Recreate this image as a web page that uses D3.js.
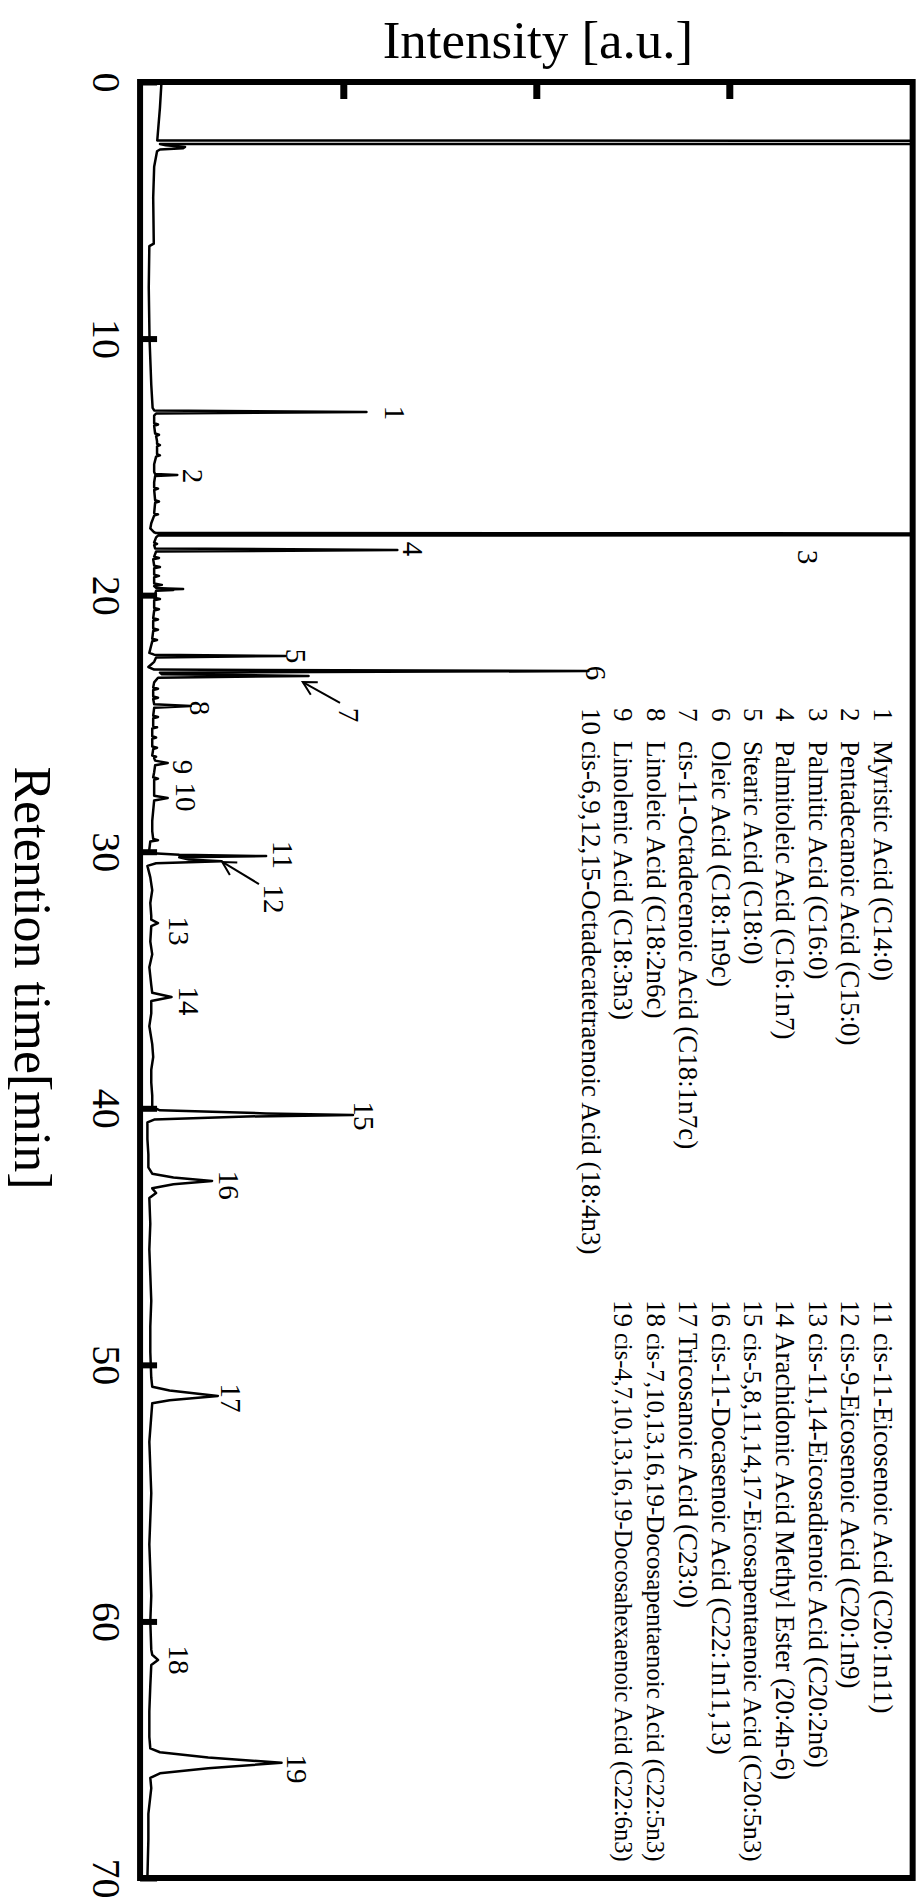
<!DOCTYPE html>
<html lang="en">
<head>
<meta charset="UTF-8">
<title>Chromatogram</title>
<script src="https://cdn.jsdelivr.net/npm/d3@7"></script>
<style>
  body { margin: 0; background: #fff; }
  svg { display: block; }
  text { font-family: "Liberation Serif", "Times New Roman", serif; fill: #000; }
</style>
</head>
<body>
<script>
// ---- data ----
const timeTicks = [0, 10, 20, 30, 40, 50, 60, 70]
const intensityTicks = [1, 2, 3]

// [retention time (min), intensity (a.u.)]
const trace = [
  [0, 0.058], [1.0, 0.05], [2.1, 0.038], [2.28, 0.036], [2.29, 6], [2.41, 6], [2.42, 0.05],
  [2.47, 0.08], [2.53, 0.18], [2.58, 0.17], [2.63, 0.05], [2.7, 0.035], [3.3, 0.02], [4.5, 0.015],
  [6.3, 0.018], [6.4, -0.005], [8, -0.008], [10, -0.004], [11.8, 0.005], [12.7, 0.012],
  [12.8, 0.02], [12.86, 1.12], [12.92, 0.03], [13.0, 0.02],
  [13.3, 0.02], [13.35, 0.04], [13.4, 0.02], [13.7, 0.025], [13.75, 0.045], [13.8, 0.03],
  [14.0, 0.035], [14.1, 0.035], [14.15, 0.05], [14.2, 0.035], [14.5, 0.035], [14.55, 0.05],
  [14.6, 0.03], [14.9, 0.02], [15.2, 0.02],
  [15.28, 0.025], [15.32, 0.14], [15.36, 0.025],
  [15.6, 0.02], [15.8, 0.02], [15.85, 0.04], [15.9, 0.02], [16.3, 0.025], [16.35, 0.045],
  [16.4, 0.025], [16.8, 0.02], [16.85, 0.04], [16.9, 0.02], [17.2, 0.005], [17.4, 0.0], [17.55, 0.02],
  [17.58, 0.03], [17.6, 6], [17.66, 6], [17.68, 0.04],
  [17.75, 0.03], [17.95, 0.02], [18.0, 0.035], [18.05, 0.02],
  [18.18, 0.025], [18.24, 1.28], [18.3, 0.03],
  [18.5, 0.02], [18.55, 0.045], [18.6, 0.015], [18.85, 0.02], [18.9, 0.05], [18.95, 0.02],
  [19.2, 0.02], [19.25, 0.045], [19.3, 0.02], [19.55, 0.02], [19.6, 0.06], [19.65, 0.02],
  [19.72, 0.03], [19.74, 0.09], [19.76, 0.17], [19.78, 0.08], [19.8, 0.12], [19.83, 0.03],
  [20.1, 0.02], [20.15, 0.05], [20.2, 0.02], [20.5, 0.02], [20.55, 0.045], [20.6, 0.02],
  [20.9, 0.015], [20.95, 0.04], [21.0, 0.015], [21.3, 0.015], [21.35, 0.04], [21.4, 0.015],
  [21.7, 0.01], [21.75, 0.035], [21.8, 0.01], [22.1, 0.0], [22.25, -0.005],
  [22.32, 0.02], [22.37, 0.70], [22.43, 0.03], [22.6, 0.02], [22.8, -0.01], [22.9, 0.02],
  [22.96, 2.27], [23.02, 0.05], [23.08, 0.06], [23.15, 0.82], [23.22, 0.04],
  [23.4, 0.02], [23.6, 0.015], [23.65, 0.04], [23.7, 0.015], [23.95, 0.015], [24.0, 0.04], [24.05, 0.015],
  [24.25, 0.02], [24.32, 0.21], [24.39, 0.02],
  [24.7, 0.015], [24.75, 0.04], [24.8, 0.015], [25.1, 0.015], [25.15, 0.035], [25.2, 0.01],
  [25.5, 0.01], [25.55, 0.03], [25.6, 0.01], [25.9, 0.01], [25.95, 0.035], [26.0, 0.015],
  [26.25, 0.01], [26.3, 0.03], [26.35, 0.02],
  [26.45, 0.025], [26.54, 0.09], [26.63, 0.025],
  [26.9, 0.02], [27.1, 0.015], [27.15, 0.04], [27.2, 0.02], [27.5, 0.02],
  [27.82, 0.02], [27.91, 0.09], [28.0, 0.02],
  [28.4, 0.015], [28.8, 0.01], [29.2, 0.01], [29.5, 0.015], [29.55, 0.04], [29.6, 0.0],
  [29.9, -0.005], [30.05, -0.01],
  [30.12, 0.15], [30.17, 0.60], [30.22, 0.15], [30.3, 0.2], [30.37, 0.37], [30.45, 0.03], [30.55, -0.015],
  [31.0, 0.0], [31.5, 0.01], [32.0, 0.0], [32.5, 0.005],
  [32.65, 0.005], [32.78, 0.04], [32.9, 0.005],
  [33.5, 0.0], [34.0, 0.01], [34.5, -0.005], [35.2, 0.005],
  [35.5, 0.01], [35.66, 0.11], [35.82, 0.005],
  [36.3, 0.005], [36.8, -0.005], [37.5, 0.01], [38.0, 0.015], [38.5, 0.005], [39.0, 0.005],
  [39.5, 0.01], [39.95, 0.01],
  [40.08, 0.05], [40.2, 0.6], [40.26, 1.05], [40.32, 0.5], [40.44, 0.02], [40.55, -0.015],
  [41.2, -0.015], [41.8, -0.01], [42.3, -0.01],
  [42.55, 0.01], [42.7, 0.12], [42.83, 0.32], [42.96, 0.12], [43.12, 0.01], [43.3, 0.03], [43.5, -0.005],
  [44.5, 0.0], [45.5, -0.005], [46.5, 0.0], [47.5, 0.005], [48.5, 0.0], [49.5, 0.0], [50.5, 0.005],
  [50.85, 0.01], [51.0, 0.1], [51.21, 0.35], [51.38, 0.1], [51.5, 0.01],
  [52, 0.005], [53, -0.005], [54, 0.0], [55, 0.005], [56, 0.0], [57, -0.005], [58, 0.0],
  [59, 0.005], [60, 0.0], [61.1, 0.005],
  [61.3, 0.01], [61.5, 0.04], [61.7, 0.005],
  [62.5, 0.0], [63.5, -0.005], [64.5, -0.005],
  [64.95, 0.0], [65.1, 0.05], [65.3, 0.3], [65.51, 0.68], [65.72, 0.3], [65.92, 0.05], [66.1, 0.0],
  [66.5, 0.005], [67.5, -0.01], [68.5, -0.01], [70, -0.015]
]

// peak numbers and where their labels sit
const peakNames = ['1', '2', '3', '4', '5', '6', '7', '8', '9', '10', '11', '12', '13', '14', '15', '16', '17', '18', '19']
const labelTimes = [12.9, 15.36, 18.51, 18.2, 22.37, 23.03, 24.67, 24.4, 26.7, 27.87, 30.13, 31.84, 33.09, 35.82, 40.3, 43.0, 51.29, 61.5, 65.75]
const labelIntensities = [1.27, 0.22, 3.41, 1.36, 0.755, 2.31, 1.03, 0.26, 0.17, 0.185, 0.69, 0.64, 0.15, 0.2, 1.107, 0.41, 0.42, 0.15, 0.76]

// arrows for the shoulders 7 and 12: [time, intensity] tail -> tip
const arrowTails = [[24.2, 0.983], [31.26, 0.563]]
const arrowTips = [[23.39, 0.79], [30.4, 0.373]]

const legendNames1 = [
  'Myristic Acid (C14:0)',
  'Pentadecanoic Acid (C15:0)',
  'Palmitic Acid (C16:0)',
  'Palmitoleic Acid (C16:1n7)',
  'Stearic Acid (C18:0)',
  'Oleic Acid (C18:1n9c)',
  'cis-11-Octadecenoic Acid (C18:1n7c)',
  'Linoleic Acid (C18:2n6c)',
  'Linolenic Acid (C18:3n3)',
  'cis-6,9,12,15-Octadecatetraenoic Acid (18:4n3)'
]
const legendNames2 = [
  'cis-11-Eicosenoic Acid (C20:1n11)',
  'cis-9-Eicosenoic Acid (C20:1n9)',
  'cis-11,14-Eicosadienoic Acid (C20:2n6)',
  'Arachidonic Acid Methyl Ester (20:4n-6)',
  'cis-5,8,11,14,17-Eicosapentaenoic Acid (C20:5n3)',
  'cis-11-Docasenoic Acid (C22:1n11,13)',
  'Tricosanoic Acid (C23:0)',
  'cis-7,10,13,16,19-Docosapentaenoic Acid (C22:5n3)',
  'cis-4,7,10,13,16,19-Docosahexaenoic Acid (C22:6n3)'
]

// ---- chart ----
const width = 922
const height = 1900
const intensityExtent = [-0.053, 3.95]

// time runs down the page, intensity runs across
const y = d3.scaleLinear().domain([0, 70]).range([82, 1878])
const x = d3.scaleLinear().domain([0, 3]).range([150.3, 729.3])

const svg = d3.select('body').append('svg')
  .attr('width', width)
  .attr('height', height)

const left = x(intensityExtent[0])
const right = x(intensityExtent[1])

svg.append('clipPath').attr('id', 'plot-clip')
  .append('rect')
  .attr('x', left).attr('y', y(0))
  .attr('width', right - left).attr('height', y(70) - y(0))

const line = d3.line()
  .x(d => x(d[1]))
  .y(d => y(d[0]))

svg.append('path')
  .datum(trace)
  .attr('clip-path', 'url(#plot-clip)')
  .attr('d', line)
  .attr('fill', 'none')
  .attr('stroke', '#000')
  .attr('stroke-width', 2.5)
  .attr('stroke-linejoin', 'round')

// top ticks (no labels)
const topAxis = svg.append('g')
  .attr('transform', `translate(0,${y(0)})`)
  .call(d3.axisBottom(x).tickValues(intensityTicks).tickSize(17).tickFormat(''))
topAxis.select('.domain').remove()
topAxis.selectAll('line').attr('stroke-width', 7)

// left axis: ticks inside, labels rotated
const leftAxis = svg.append('g')
  .attr('transform', `translate(${left},0)`)
  .call(d3.axisLeft(y).tickValues(timeTicks).tickSize(-17).tickFormat(d => d))
leftAxis.select('.domain').remove()
leftAxis.selectAll('line').attr('stroke-width', 6)
leftAxis.selectAll('text')
  .attr('x', 0)
  .attr('dy', '0.35em')
  .attr('text-anchor', 'middle')
  .attr('transform', 'translate(-33,0) rotate(90)')
  .style('font-family', '"Liberation Serif", "Times New Roman", serif')
  .style('font-size', '40px')

// frame
svg.append('rect')
  .attr('x', left).attr('y', y(0))
  .attr('width', right - left).attr('height', y(70) - y(0))
  .attr('fill', 'none')
  .attr('stroke', '#000')
  .attr('stroke-width', 6)

// titles
svg.append('text')
  .attr('x', 538).attr('y', 58)
  .attr('text-anchor', 'middle')
  .style('font-size', '53px')
  .text('Intensity [a.u.]')

svg.append('text')
  .attr('transform', 'translate(15,978) rotate(90)')
  .attr('text-anchor', 'middle')
  .style('font-size', '52px')
  .text('Retention time[min]')

// peak labels
svg.append('g').selectAll('text')
  .data(peakNames)
  .join('text')
  .attr('transform', (d, i) => `translate(${x(labelIntensities[i])},${y(labelTimes[i])}) rotate(90)`)
  .attr('text-anchor', 'middle')
  .attr('dy', '0.35em')
  .style('font-size', '29px')
  .text(d => d)

// arrows
const arrows = svg.append('g')
  .attr('stroke', '#000')
  .attr('stroke-width', 2)
  .attr('fill', 'none')
arrowTips.forEach((tip, i) => {
  const x1 = x(tip[1]), y1 = y(tip[0])
  const x2 = x(arrowTails[i][1]), y2 = y(arrowTails[i][0])
  const a = Math.atan2(y2 - y1, x2 - x1)
  const len = 15
  arrows.append('line').attr('x1', x1).attr('y1', y1).attr('x2', x2).attr('y2', y2)
  arrows.append('path')
    .attr('d', `M${x1 + len * Math.cos(a - 0.5)},${y1 + len * Math.sin(a - 0.5)}L${x1},${y1}L${x1 + len * Math.cos(a + 0.5)},${y1 + len * Math.sin(a + 0.5)}`)
})

// legend, two columns of rotated lines; a line that would run past the frame gets a smaller font
const nameOffset = 33
const legendSize = 27
function legendColumn(names, firstNumber, startY) {
  const g = svg.append('g')
  const room = y(70) - 16 - startY - nameOffset
  names.forEach((name, i) => {
    const row = g.append('g')
      .attr('transform', `translate(${883 - 32.4 * i},${startY}) rotate(90)`)
      .style('font-size', legendSize + 'px')
    row.append('text').attr('dy', '0.35em').text(firstNumber + i)
    const t = row.append('text').attr('x', nameOffset).attr('dy', '0.35em').text(name)
    const len = t.node().getComputedTextLength()
    if (len > room) {
      t.style('font-size', (legendSize * room / len).toFixed(2) + 'px')
    }
  })
}
legendColumn(legendNames1, 1, 708)
legendColumn(legendNames2, 11, 1300)
</script>
</body>
</html>
